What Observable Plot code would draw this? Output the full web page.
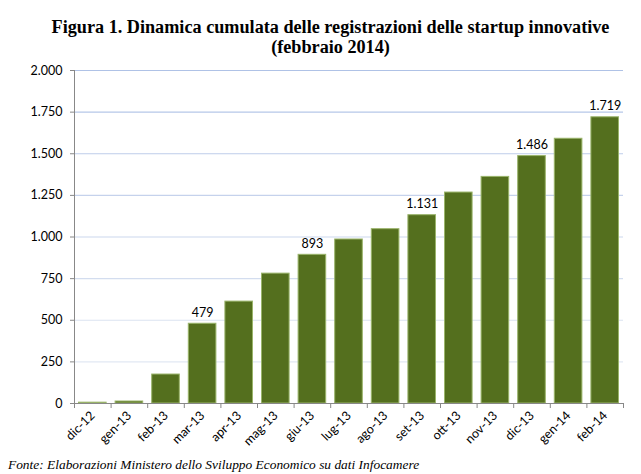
<!DOCTYPE html>
<html><head><meta charset="utf-8">
<script src="https://cdn.jsdelivr.net/npm/d3@7"></script>
<script src="https://cdn.jsdelivr.net/npm/@observablehq/plot@0.6"></script>
<style>
body{margin:0;background:#fff;width:641px;height:474px;overflow:hidden}
#title{font-family:"Liberation Serif",serif;font-weight:bold;font-size:18.2px;text-align:center;line-height:20px;padding-top:17px;height:43px;color:#000;padding-left:20px;white-space:nowrap}
#chart{height:392px}
#caption{font-family:"Liberation Serif",serif;font-style:italic;font-size:13.4px;padding-left:8px;margin-top:6px;line-height:14px;color:#000}
</style></head><body>
<div id="title">Figura 1. Dinamica cumulata delle registrazioni delle startup innovative<br>(febbraio 2014)</div>
<div id="chart"></div>
<div id="caption">Fonte: Elaborazioni Ministero dello Sviluppo Economico su dati Infocamere</div>
<script>
const months = ["dic-12","gen-13","feb-13","mar-13","apr-13","mag-13","giu-13","lug-13","ago-13","set-13","ott-13","nov-13","dic-13","gen-14","feb-14"];
const values = [5, 12, 174, 479, 612, 780, 893, 985, 1047, 1131, 1267, 1361, 1486, 1590, 1719];
const labelled = ["mar-13","giu-13","set-13","dic-13","feb-14"];
const yTicks = [0, 250, 500, 750, 1000, 1250, 1500, 1750, 2000];

const data = months.map((m, i) => ({month: m, i, value: values[i]}));
const fmt = d3.formatLocale({decimal: ",", thousands: ".", grouping: [3], currency: ["", "€"]}).format(",d");
const gridColor = d3.scaleLinear().domain([250, 2000]).range(["#e2e8f3", "#afc2e6"]);

const plot = Plot.plot({
  width: 641, height: 392,
  marginLeft: 74, marginRight: 18, marginTop: 10, marginBottom: 49,
  style: {fontFamily: "Lato, sans-serif", fontSize: "12px", color: "#000", background: "#fff"},
  x: {type: "linear", domain: [0, months.length], label: null},
  y: {domain: [0, 2000], label: null},
  marks: [
    Plot.ruleY(yTicks.filter(d => d > 0), {stroke: d => gridColor(d), strokeWidth: 1.2}),
    Plot.rectY(data, {x1: "i", x2: d => d.i + 1, y: "value", fill: "#546f1e", stroke: "#9ab46a", strokeWidth: 1, insetLeft: 4.5, insetRight: 4.5}),
    Plot.text(data.filter(d => labelled.includes(d.month)), {x: d => d.i + 0.5, y: "value", text: d => fmt(d.value), dy: -11, fontSize: 12.5, fill: "#000"}),
    Plot.axisY({ticks: yTicks, tickFormat: fmt, tickSize: 4, tickPadding: 8, stroke: "#888", fontSize: 12.5, label: null}),
    Plot.ruleX([0], {stroke: "#888"}),
    Plot.ruleY([0], {stroke: "#888"}),
    Plot.axisX({ticks: d3.range(0, months.length + 1), tickFormat: () => "", tickSize: 5, stroke: "#888", label: null}),
    Plot.axisX({ticks: d3.range(months.length).map(i => i + 0.5), tickFormat: d => months[Math.floor(d)], tickSize: 0, tickPadding: 10, tickRotate: -45, fontSize: 12.5, label: null})
  ]
});
document.getElementById("chart").appendChild(plot);
</script>
</body></html>
